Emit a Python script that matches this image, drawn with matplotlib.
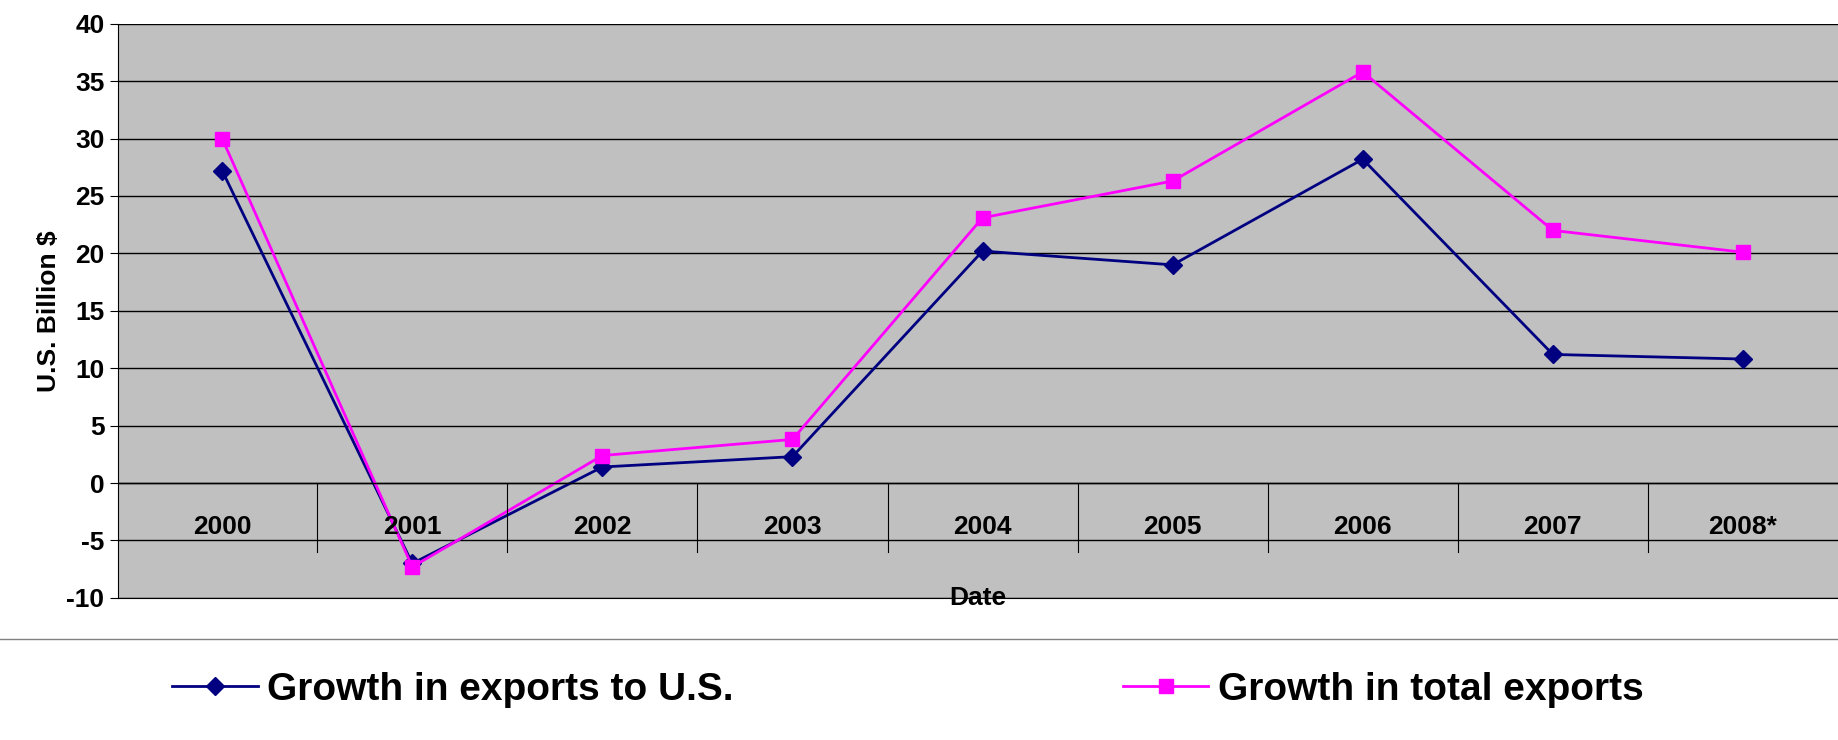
import matplotlib.pyplot as plt
import matplotlib.lines as mlines

plt.rcParams['font.family'] = ['Liberation Sans', 'DejaVu Sans']
plt.rcParams['axes.unicode_minus'] = False

years = ["2000", "2001", "2002", "2003", "2004", "2005", "2006", "2007", "2008*"]
exports_us = [27.2, -7.0, 1.4, 2.3, 20.2, 19.0, 28.2, 11.2, 10.8]
exports_total = [30.0, -7.3, 2.4, 3.8, 23.1, 26.3, 35.8, 22.0, 20.1]

fig = plt.figure(figsize=(18.38, 7.40), dpi=100)
ax = fig.add_axes([0.064, 0.192, 0.936, 0.776])
ax.set_facecolor("#c0c0c0")
x = list(range(len(years)))
ax.plot(x, exports_us, color="#000080", marker="D", markersize=9, lw=2, label="Growth in exports to U.S.")
ax.plot(x, exports_total, color="#ff00ff", marker="s", markersize=10, lw=2, label="Growth in total exports")
ax.set_xlim(-0.55, 8.5)
ax.set_ylim(-10, 40)
ax.set_yticks(range(-10, 41, 5))
ax.yaxis.grid(True, color="black", lw=1)
ax.set_axisbelow(True)
ax.set_xticks([])
ax.axhline(0, color="black", lw=1)
for i in range(len(years)):
    ax.text(i, -3.8, years[i], ha="center", va="center", fontsize=19, fontweight="bold")
    if i > 0:
        ax.plot([i - 0.5, i - 0.5], [0, -6], color="black", lw=0.8)
for s in ["top", "right"]:
    ax.spines[s].set_visible(False)
ax.tick_params(axis="y", labelsize=19, length=6)
for t in ax.get_yticklabels():
    t.set_fontweight("bold")
ax.set_ylabel("U.S. Billion $", fontsize=19, fontweight="bold", labelpad=4)
ax.text(0.5, 0.0, "Date", transform=ax.transAxes, ha="center", va="center", fontsize=19, fontweight="bold")

fig.add_artist(mlines.Line2D([0, 1], [0.136, 0.136], color="gray", lw=1))
fig.legend(loc="center", bbox_to_anchor=(0.494, 0.068), ncol=2, frameon=False,
           prop={"size": 28, "weight": "bold"}, columnspacing=10, handlelength=2.2, handletextpad=0.25)
fig.savefig("out.png")
